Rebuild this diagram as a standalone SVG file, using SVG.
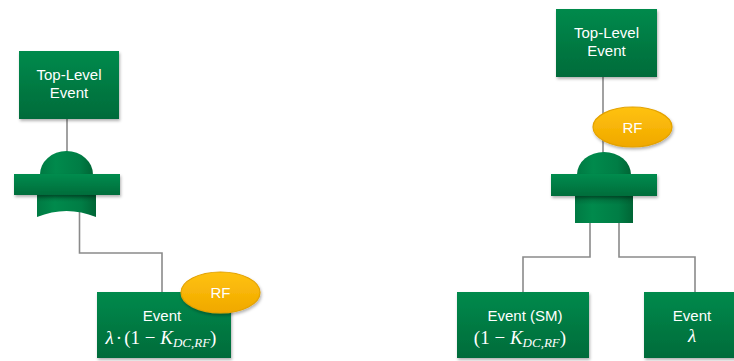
<svg xmlns="http://www.w3.org/2000/svg" width="734" height="361" viewBox="0 0 734 361">
  <defs>
    <linearGradient id="boxFill" x1="0" y1="0" x2="0" y2="1">
      <stop offset="0" stop-color="#008a4c"/>
      <stop offset="1" stop-color="#006b3a"/>
    </linearGradient>
    <linearGradient id="barFill" x1="0" y1="0" x2="0" y2="1">
      <stop offset="0" stop-color="#008c4e"/>
      <stop offset="1" stop-color="#006d3b"/>
    </linearGradient>
    <linearGradient id="bodyFill" x1="0" y1="0" x2="1" y2="0">
      <stop offset="0" stop-color="#007a43"/>
      <stop offset="0.3" stop-color="#008a4c"/>
      <stop offset="0.75" stop-color="#007d45"/>
      <stop offset="1" stop-color="#006535"/>
    </linearGradient>
    <linearGradient id="bodyShade" x1="0" y1="0" x2="0" y2="1">
      <stop offset="0" stop-color="#003d20" stop-opacity="0.45"/>
      <stop offset="0.35" stop-color="#003d20" stop-opacity="0"/>
    </linearGradient>
    <linearGradient id="rfFill" x1="0" y1="0" x2="0" y2="1">
      <stop offset="0" stop-color="#ffc20e"/>
      <stop offset="1" stop-color="#f0a800"/>
    </linearGradient>
    <filter id="shadow" x="-10%" y="-10%" width="125%" height="135%">
      <feDropShadow dx="1" dy="2" stdDeviation="1.5" flood-color="#000" flood-opacity="0.3"/>
    </filter>
  </defs>
  <style>
    .box { fill: url(#boxFill); filter: url(#shadow); }
    .bar { fill: url(#barFill); filter: url(#shadow); }
    .body { fill: url(#bodyFill); }
    .shade { fill: url(#bodyShade); }
    .rf { fill: url(#rfFill); stroke: #e3a200; stroke-width: 1.2; filter: url(#shadow); }
    .lbl { font-family: "Liberation Sans", Arial, sans-serif; font-size: 15px; fill: #ffffff; text-anchor: middle; }
    .math { font-family: "Liberation Serif", "DejaVu Serif", serif; font-size: 19px; fill: #ffffff; text-anchor: middle; }
    .it { font-style: italic; }
    .sub { font-style: italic; font-size: 13px; }
    .wire { fill: none; stroke: #8a8a8a; stroke-width: 1.6; }
  </style>

  <!-- connectors -->
  <g id="connectors">
    <path class="wire" d="M67,119 V152"/>
    <path class="wire" d="M79.5,210 V253 H162 V292"/>
    <path class="wire" d="M603,77 V153"/>
    <path class="wire" d="M590,222 V257 H523 V292"/>
    <path class="wire" d="M619,222 V257 H695 V292"/>
  </g>

  <!-- left tree -->
  <g id="top-left">
    <rect class="box" x="19" y="51" width="100" height="68"/>
    <text class="lbl" x="69" y="80">Top-Level</text>
    <text class="lbl" x="69" y="98">Event</text>
  </g>

  <g id="gate-left">
    <path class="body" d="M40,174.5 A26.5,23.5 0 0 1 93,174.5 Z"/>
    <path class="body" d="M37,194 H96 V217 Q66.5,205 37,217 Z"/>
    <path class="shade" d="M37,194 H96 V217 Q66.5,205 37,217 Z"/>
    <rect class="bar" x="14" y="174" width="106" height="21"/>
  </g>

  <g id="event-left">
    <rect class="box" x="97" y="292" width="134" height="66"/>
    <text class="lbl" x="162" y="321">Event</text>
    <text class="math" x="161" y="344"><tspan class="it">λ</tspan><tspan dx="2">·</tspan><tspan dx="2">(1 − </tspan><tspan class="it">K</tspan><tspan class="sub" dy="3">DC,RF</tspan><tspan dy="-3">)</tspan></text>
  </g>

  <g id="rf-left">
    <ellipse class="rf" cx="220.5" cy="292.5" rx="39.5" ry="20.5"/>
    <text class="lbl" x="220.5" y="298">RF</text>
  </g>

  <!-- right tree -->
  <g id="top-right">
    <rect class="box" x="556" y="9" width="101" height="68"/>
    <text class="lbl" x="606.5" y="38">Top-Level</text>
    <text class="lbl" x="606.5" y="56">Event</text>
  </g>

  <g id="gate-right">
    <path class="body" d="M577,174.5 A27,22.5 0 0 1 631,174.5 Z"/>
    <rect class="body" x="575" y="195" width="58" height="28"/>
    <rect class="shade" x="575" y="195" width="58" height="28"/>
    <rect class="bar" x="551" y="174" width="106" height="22"/>
  </g>

  <g id="rf-right">
    <ellipse class="rf" cx="632.5" cy="127" rx="39.5" ry="20"/>
    <text class="lbl" x="632.5" y="132.5">RF</text>
  </g>

  <g id="event-sm">
    <rect class="box" x="457" y="292" width="132" height="66"/>
    <text class="lbl" x="525" y="321">Event (SM)</text>
    <text class="math" x="520" y="344">(1 − <tspan class="it">K</tspan><tspan class="sub" dy="3">DC,RF</tspan><tspan dy="-3">)</tspan></text>
  </g>

  <g id="event-lambda">
    <rect class="box" x="644" y="292" width="100" height="66"/>
    <text class="lbl" x="692" y="321">Event</text>
    <text class="math it" x="692" y="342">λ</text>
  </g>
</svg>
